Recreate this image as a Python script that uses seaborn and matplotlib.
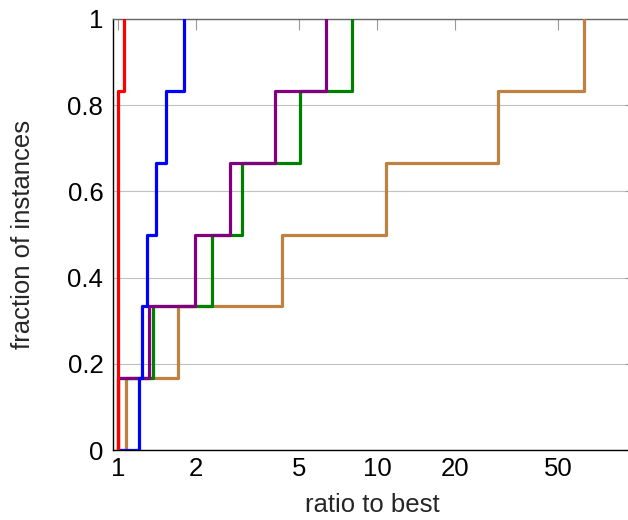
import matplotlib
matplotlib.use("Agg")
import matplotlib.pyplot as plt
import seaborn as sns
import pandas as pd

# performance profile steps: ratio at which each fraction is reached
fractions = [0, 1/6, 2/6, 3/6, 4/6, 5/6, 1]

brown_x = [1, 1.07, 1.71, 4.28, 10.8, 29.3, 63.1]
green_x = [1, 1, 1.36, 2.31, 3.0, 5.05, 8.03]
purple_x = [1, 1, 1.32, 1.98, 2.71, 4.04, 6.34]
blue_x = [1, 1.2, 1.234, 1.298, 1.398, 1.536, 1.803]
red_x = [1, 1, 1.057]
red_y = [0, 5/6, 1]

xticks = [1, 2, 5, 10, 20, 50]
yticks = [0, 0.2, 0.4, 0.6, 0.8, 1]
ytick_labels = ["0", "0.2", "0.4", "0.6", "0.8", "1"]

series = {
    "brown": (brown_x, fractions),
    "green": (green_x, fractions),
    "purple": (purple_x, fractions),
    "blue": (blue_x, fractions),
    "red": (red_x, red_y),
}
rows = []
for name, (xs, ys) in series.items():
    for x, y in zip(xs, ys):
        rows.append({"solver": name, "ratio": x, "frac": y})
df = pd.DataFrame(rows)

palette = {
    "brown": "#bf8040",
    "green": "#008000",
    "purple": "#800080",
    "blue": "#0000ff",
    "red": "#ff0000",
}

sns.set_style("white")
plt.rcParams["font.family"] = ["Liberation Sans", "DejaVu Sans"]
fs = 18.5

fig = plt.figure(figsize=(6.28, 5.2), dpi=100)
ax = fig.add_axes([113 / 628, 70 / 520, 523 / 628, 431 / 520])

sns.lineplot(data=df, x="ratio", y="frac", hue="solver", hue_order=list(series.keys()),
             palette=palette, estimator=None, sort=False, units="solver",
             drawstyle="steps-post", linewidth=2.3, legend=False, ax=ax, zorder=3)

ax.set_xscale("log")
ax.set_xlim(0.956, 100)
ax.set_ylim(0, 1)
ax.set_xticks(xticks)
ax.set_xticklabels([str(t) for t in xticks])
ax.minorticks_off()
ax.set_yticks(yticks)
ax.set_yticklabels(ytick_labels)

ax.grid(axis="y", color="#c0c0c0", linewidth=0.8)
ax.grid(axis="x", visible=False)
ax.tick_params(axis="both", direction="in", length=8, width=0.8, color="#999999",
               labelsize=fs, labelcolor="black", top=True, right=True, pad=7)
ax.tick_params(axis="x", pad=5)

for side in ["left", "bottom"]:
    ax.spines[side].set_color("black")
    ax.spines[side].set_linewidth(1.0)
ax.spines["top"].set_color("#666666")
ax.spines["top"].set_linewidth(1.0)

ax.set_xlabel("ratio to best", fontsize=fs)
ax.set_ylabel("fraction of instances", fontsize=fs)
ax.xaxis.set_label_coords((372 - 113) / 523, -0.1)
ax.yaxis.set_label_coords(-0.15, 0.5)

fig.savefig("out.png", dpi=100)
